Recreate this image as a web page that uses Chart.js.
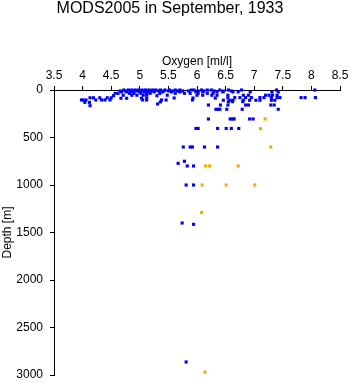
<!DOCTYPE html>
<html>
<head>
<meta charset="utf-8">
<script src="https://cdn.jsdelivr.net/npm/chart.js@4/dist/chart.umd.min.js"></script>
<style>
  body { margin: 0; background: #fff; }
</style>
</head>
<body>
<canvas id="chart" width="350" height="384"></canvas>
<script>
const titleText = "MODS2005 in September, 1933";
const xLabel = "Oxygen [ml/l]";
const yLabel = "Depth [m]";

const xTicks = [3.5, 4, 4.5, 5, 5.5, 6, 6.5, 7, 7.5, 8, 8.5];
const yTicks = [0, 500, 1000, 1500, 2000, 2500, 3000];

// [oxygen, depth]
const bluePoints = [
  [4.72, 0], [4.80, 0], [4.86, 0], [4.92, 0], [4.98, 0], [5.04, 0], [5.10, 0], [5.16, 0],
  [5.22, 0], [5.28, 0], [5.36, 0], [5.44, 0], [5.52, 0], [5.62, 0], [5.70, 0], [5.90, 0],
  [5.95, 0], [6.08, 0], [6.18, 0], [6.25, 0], [6.40, 0], [6.55, 0], [6.78, 0], [7.39, 0], [8.06, 0],
  [4.66, 10], [4.75, 10], [4.84, 10], [4.90, 10], [4.96, 10], [5.02, 10], [5.08, 10], [5.14, 10],
  [5.20, 10], [5.26, 10], [5.33, 10], [5.42, 10], [5.50, 10], [5.58, 10], [5.66, 10], [5.75, 10],
  [5.85, 10], [6.02, 10], [6.12, 10], [6.30, 10], [6.47, 10], [6.60, 10],
  [4.68, 20], [4.77, 20], [4.88, 20], [5.00, 20], [5.08, 20], [5.18, 20], [5.25, 20], [5.40, 20],
  [5.55, 20], [5.70, 20], [5.98, 20], [6.10, 20], [6.35, 20], [6.45, 20], [6.63, 20], [6.72, 20],
  [6.93, 20], [7.31, 20], [7.42, 20],
  [4.57, 35], [4.62, 35], [4.82, 35], [4.90, 35], [5.02, 35], [5.12, 35], [5.18, 35], [5.35, 35],
  [5.62, 35], [5.78, 35], [5.88, 35], [6.02, 35], [6.18, 35], [6.28, 35],
  [4.54, 60], [4.71, 55], [4.86, 55], [4.95, 55], [5.06, 55], [5.12, 55], [5.30, 60], [5.48, 55],
  [6.00, 55], [6.10, 55], [6.26, 55], [6.35, 55], [6.54, 55], [6.81, 55], [6.90, 55], [7.20, 55],
  [7.26, 55], [7.32, 55], [7.40, 55],
  [4.13, 82], [4.19, 82], [4.30, 82], [4.43, 82], [4.50, 82], [4.67, 87], [4.77, 87], [5.03, 87],
  [5.12, 87], [5.60, 84], [5.93, 84], [6.32, 84], [6.54, 84], [6.66, 80], [6.75, 80], [6.85, 80],
  [6.95, 80], [7.10, 80], [7.17, 80], [7.30, 80], [7.40, 80], [7.45, 80], [7.82, 80], [7.89, 80], [8.07, 80],
  [3.98, 105], [4.01, 105], [4.06, 105], [4.23, 105], [4.33, 105], [4.39, 105], [4.48, 105],
  [5.05, 105], [5.12, 105], [5.38, 105], [5.46, 105], [5.92, 105], [6.46, 108], [6.58, 108],
  [6.63, 108], [6.81, 108], [6.92, 108], [7.03, 108], [7.10, 108], [7.30, 108], [7.36, 108],
  [4.04, 130], [4.12, 130], [5.36, 125], [6.55, 123], [6.62, 123], [6.80, 123],
  [4.13, 165], [5.31, 147], [6.20, 158], [6.41, 158], [6.54, 158], [6.85, 158], [6.90, 158],
  [7.29, 158], [7.35, 158],
  [6.33, 203], [6.37, 203], [6.40, 203], [6.52, 203], [6.79, 203], [7.42, 203],
  [6.20, 305], [6.58, 305], [6.62, 305], [6.65, 305], [6.92, 305], [6.98, 305],
  [5.98, 405], [6.02, 405], [6.36, 405], [6.51, 405], [6.60, 405], [6.73, 405],
  [5.76, 600], [5.88, 600], [5.92, 600], [6.13, 600], [6.36, 600],
  [5.78, 750], [5.67, 772], [5.83, 800], [5.94, 800],
  [5.81, 1000], [5.94, 1000],
  [5.74, 1400], [5.94, 1414],
  [5.81, 2863]
];

const orangePoints = [
  [7.19, 305], [7.11, 407], [7.29, 600],
  [6.15, 800], [6.22, 800], [6.72, 800],
  [6.09, 1000], [6.51, 1000], [7.01, 1000],
  [6.08, 1290], [6.14, 2970]
];

const fontFamily = "'Liberation Sans', Arial, sans-serif";

function toXY(points) {
  return points.map(p => ({ x: p[0], y: p[1] }));
}

new Chart(document.getElementById("chart").getContext("2d"), {
  type: "scatter",
  data: {
    datasets: [
      {
        data: toXY(bluePoints),
        pointStyle: "rect",
        pointRadius: 2.2,
        pointBorderWidth: 0,
        backgroundColor: "#0000ff",
        borderColor: "#0000ff",
        clip: false,
      },
      {
        data: toXY(orangePoints),
        pointStyle: "rect",
        pointRadius: 2.2,
        pointBorderWidth: 0,
        backgroundColor: "#ffa500",
        borderColor: "#ffa500",
        clip: false,
      },
    ],
  },
  options: {
    responsive: false,
    animation: false,
    events: [],
    layout: {
      padding: { left: 0, right: 10, top: 0, bottom: 9 },
    },
    plugins: {
      legend: { display: false },
      tooltip: { enabled: false },
      title: {
        display: true,
        text: titleText,
        color: "#000",
        font: { family: fontFamily, size: 16, weight: "normal", lineHeight: 1 },
        padding: { top: 1, bottom: 0 },
      },
    },
    scales: {
      x: {
        type: "linear",
        position: "top",
        min: 3.5,
        max: 8.5,
        afterBuildTicks: (scale) => {
          scale.ticks = xTicks.map(v => ({ value: v }));
        },
        afterFit: (scale) => {
          scale.height = 73;
          // labels at the ends may hang past the plot edge
          scale.paddingLeft = 0;
          scale.paddingRight = 0;
        },
        ticks: {
          color: "#000",
          padding: 3,
          maxRotation: 0,
          autoSkip: false,
          font: { family: fontFamily, size: 12 },
          callback: (v) => String(v),
        },
        grid: {
          display: true,
          drawOnChartArea: false,
          drawTicks: true,
          tickLength: 4,
          color: "#000",
        },
        border: { display: true, color: "#000", width: 1 },
        title: {
          display: true,
          text: xLabel,
          color: "#000",
          font: { family: fontFamily, size: 12 },
          padding: { top: 37, bottom: 0 },
        },
      },
      y: {
        type: "linear",
        reverse: true,
        min: 0,
        max: 3000,
        afterBuildTicks: (scale) => {
          scale.ticks = yTicks.map(v => ({ value: v }));
        },
        afterFit: (scale) => {
          scale.width = 54;
          scale.paddingTop = 0;
          scale.paddingBottom = 0;
        },
        ticks: {
          color: "#000",
          padding: 7,
          autoSkip: false,
          font: { family: fontFamily, size: 12 },
          callback: (v) => String(v),
        },
        grid: {
          display: true,
          drawOnChartArea: false,
          drawTicks: true,
          tickLength: 4,
          color: "#000",
        },
        border: { display: true, color: "#000", width: 1 },
        title: {
          display: true,
          text: yLabel,
          color: "#000",
          font: { family: fontFamily, size: 12 },
          padding: { top: 0, bottom: 0 },
        },
      },
    },
  },
});
</script>
</body>
</html>
